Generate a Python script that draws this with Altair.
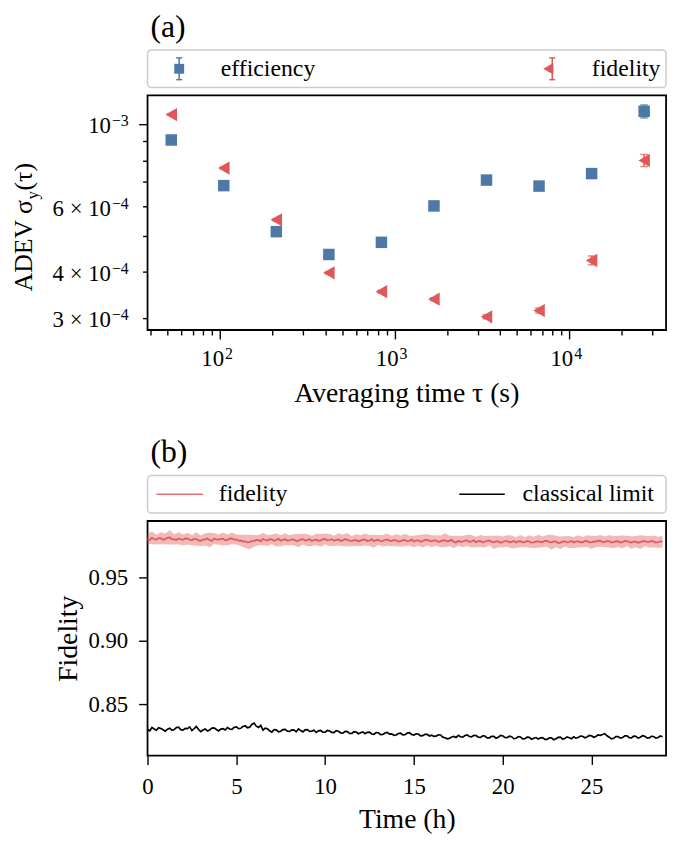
import altair as alt
import pandas as pd

# ---------------- data: panel (a) ----------------
tau = [52.5, 105, 210, 420, 840, 1680, 3360, 6720, 13440, 26880]
eff = [9.08e-4, 6.84e-4, 5.14e-4, 4.46e-4, 4.81e-4, 6.03e-4, 7.08e-4, 6.82e-4, 7.37e-4, 1.085e-3]
eff_err = [4e-6, 3e-6, 3e-6, 3e-6, 4e-6, 5e-6, 6e-6, 8e-6, 1.0e-5, 4.4e-5]
fid = [1.063e-3, 7.63e-4, 5.53e-4, 3.98e-4, 3.54e-4, 3.38e-4, 3.03e-4, 3.15e-4, 4.30e-4, 8.0e-4]
fid_err = [5e-6, 4e-6, 3e-6, 3e-6, 3e-6, 3e-6, 4e-6, 5e-6, 1.2e-5, 3.0e-5]

x_ticks_a = [40, 50, 60, 70, 80, 90, 100, 200, 300, 400, 500, 600, 700, 800, 900,
             1000, 2000, 3000, 4000, 5000, 6000, 7000, 8000, 9000, 10000, 20000, 30000]
x_major_a = [100, 1000, 10000]
x_major_exp = ["2", "3", "4"]
y_ticks_a = [3e-4, 4e-4, 5e-4, 6e-4, 7e-4, 8e-4, 9e-4, 1e-3]
y_lab_vals = [1e-3, 6e-4, 4e-4, 3e-4]
y_lab_base = ["10", "6 × 10", "4 × 10", "3 × 10"]
y_lab_exp = ["−3", "−4", "−4", "−4"]

# ---------------- data: panel (b) ----------------
# fidelity (centre) and classical limit, sampled every 0.125 h
fid_t = [
    0.9808, 0.9798, 0.9815, 0.9804, 0.9801, 0.9813, 0.9812, 0.9800, 0.9806, 0.9816, 0.9818, 0.9805, 0.9803, 0.9797, 0.9811, 0.9804, 0.9799, 0.9810,
    0.9809, 0.9800, 0.9796, 0.9807, 0.9806, 0.9795, 0.9792, 0.9801, 0.9803, 0.9811, 0.9798, 0.9790, 0.9810, 0.9802, 0.9801, 0.9808,
    0.9807, 0.9796, 0.9799, 0.9809, 0.9811, 0.9800, 0.9802, 0.9793, 0.9795, 0.9786, 0.9788, 0.9779, 0.9782, 0.9790, 0.9791, 0.9799,
    0.9797, 0.9789, 0.9806, 0.9798, 0.9794, 0.9805, 0.9803, 0.9791, 0.9798, 0.9807, 0.9792, 0.9800, 0.9804, 0.9793, 0.9796, 0.9803,
    0.9801, 0.9790, 0.9793, 0.9802, 0.9805, 0.9794, 0.9797, 0.9806, 0.9790, 0.9798, 0.9802, 0.9791, 0.9795, 0.9803, 0.9806, 0.9795,
    0.9798, 0.9805, 0.9791, 0.9799, 0.9803, 0.9790, 0.9795, 0.9804, 0.9800, 0.9792, 0.9789, 0.9798, 0.9797, 0.9786, 0.9793, 0.9801,
    0.9802, 0.9790, 0.9794, 0.9803, 0.9788, 0.9797, 0.9799, 0.9787, 0.9792, 0.9800, 0.9801, 0.9793, 0.9790, 0.9798, 0.9796, 0.9785,
    0.9789, 0.9797, 0.9798, 0.9787, 0.9792, 0.9801, 0.9786, 0.9794, 0.9795, 0.9784, 0.9790, 0.9799, 0.9799, 0.9791, 0.9788, 0.9796,
    0.9794, 0.9783, 0.9787, 0.9795, 0.9796, 0.9786, 0.9791, 0.9799, 0.9783, 0.9777, 0.9792, 0.9784, 0.9786, 0.9794, 0.9795, 0.9782,
    0.9788, 0.9796, 0.9781, 0.9789, 0.9790, 0.9780, 0.9784, 0.9792, 0.9793, 0.9785, 0.9779, 0.9788, 0.9787, 0.9776, 0.9782, 0.9790,
    0.9790, 0.9780, 0.9783, 0.9791, 0.9778, 0.9786, 0.9789, 0.9779, 0.9781, 0.9790, 0.9786, 0.9777, 0.9779, 0.9785, 0.9788, 0.9781,
    0.9783, 0.9792, 0.9791, 0.9782, 0.9780, 0.9788, 0.9786, 0.9774, 0.9776, 0.9785, 0.9788, 0.9779, 0.9782, 0.9790, 0.9778, 0.9786,
    0.9787, 0.9779, 0.9781, 0.9790, 0.9789, 0.9780, 0.9779, 0.9787, 0.9785, 0.9793, 0.9791, 0.9781, 0.9783, 0.9790, 0.9788, 0.9779,
    0.9780, 0.9789, 0.9787, 0.9778, 0.9782, 0.9791, 0.9790, 0.9781, 0.9778, 0.9786, 0.9785, 0.9776, 0.9781, 0.9789, 0.9789, 0.9782,
    0.9783, 0.9791, 0.9786, 0.9778, 0.9780, 0.9788, 0.9785,
]
classical = [
    0.8302, 0.8291, 0.8318, 0.8306, 0.8296, 0.8315, 0.8310, 0.8299, 0.8288, 0.8304, 0.8312, 0.8295, 0.8301, 0.8317, 0.8320, 0.8300, 0.8297, 0.8311,
    0.8309, 0.8322, 0.8293, 0.8308, 0.8325, 0.8301, 0.8284, 0.8297, 0.8306, 0.8290, 0.8298, 0.8312, 0.8314, 0.8302, 0.8290, 0.8305,
    0.8308, 0.8298, 0.8317, 0.8305, 0.8302, 0.8319, 0.8322, 0.8309, 0.8311, 0.8326, 0.8331, 0.8315, 0.8320, 0.8341, 0.8352, 0.8328,
    0.8318, 0.8334, 0.8296, 0.8312, 0.8307, 0.8292, 0.8281, 0.8300, 0.8299, 0.8283, 0.8288, 0.8301, 0.8303, 0.8289, 0.8286, 0.8298,
    0.8297, 0.8284, 0.8306, 0.8293, 0.8283, 0.8299, 0.8301, 0.8287, 0.8289, 0.8296, 0.8278, 0.8291, 0.8294, 0.8280, 0.8281, 0.8295,
    0.8290, 0.8279, 0.8277, 0.8292, 0.8288, 0.8275, 0.8273, 0.8287, 0.8285, 0.8271, 0.8270, 0.8284, 0.8282, 0.8268, 0.8276, 0.8283,
    0.8268, 0.8279, 0.8281, 0.8266, 0.8264, 0.8277, 0.8276, 0.8261, 0.8262, 0.8274, 0.8279, 0.8265, 0.8267, 0.8256, 0.8258, 0.8270,
    0.8272, 0.8259, 0.8261, 0.8273, 0.8276, 0.8262, 0.8257, 0.8268, 0.8266, 0.8251, 0.8253, 0.8263, 0.8264, 0.8250, 0.8256, 0.8247,
    0.8249, 0.8260, 0.8258, 0.8241, 0.8236, 0.8228, 0.8231, 0.8243, 0.8247, 0.8238, 0.8255, 0.8244, 0.8241, 0.8254, 0.8259, 0.8246,
    0.8244, 0.8256, 0.8253, 0.8240, 0.8239, 0.8251, 0.8250, 0.8235, 0.8236, 0.8247, 0.8248, 0.8233, 0.8240, 0.8255, 0.8252, 0.8238,
    0.8237, 0.8249, 0.8245, 0.8230, 0.8232, 0.8246, 0.8243, 0.8227, 0.8229, 0.8242, 0.8240, 0.8225, 0.8233, 0.8238, 0.8226, 0.8235,
    0.8238, 0.8223, 0.8224, 0.8236, 0.8235, 0.8220, 0.8228, 0.8239, 0.8241, 0.8226, 0.8230, 0.8243, 0.8237, 0.8229, 0.8244, 0.8233,
    0.8239, 0.8250, 0.8248, 0.8236, 0.8242, 0.8255, 0.8251, 0.8240, 0.8246, 0.8259, 0.8256, 0.8262, 0.8268, 0.8252, 0.8241, 0.8228,
    0.8232, 0.8245, 0.8246, 0.8233, 0.8238, 0.8252, 0.8251, 0.8237, 0.8236, 0.8249, 0.8247, 0.8234, 0.8240, 0.8253, 0.8249, 0.8236,
    0.8235, 0.8248, 0.8246, 0.8233, 0.8239, 0.8250, 0.8244,
]
# half-width of the shaded fidelity band, sampled every 0.25 h
fid_t_err = [
    0.0042, 0.0051, 0.0038, 0.0047, 0.0044, 0.0056, 0.0040, 0.0049, 0.0043,
    0.0046, 0.0039, 0.0053, 0.0041, 0.0048, 0.0058, 0.0044, 0.0040,
    0.0050, 0.0043, 0.0047, 0.0039, 0.0045, 0.0052, 0.0057, 0.0046,
    0.0041, 0.0049, 0.0044, 0.0038, 0.0051, 0.0043, 0.0047, 0.0040,
    0.0045, 0.0053, 0.0042, 0.0048, 0.0039, 0.0046, 0.0050, 0.0043,
    0.0047, 0.0041, 0.0049, 0.0044, 0.0054, 0.0040, 0.0046, 0.0042,
    0.0048, 0.0043, 0.0051, 0.0039, 0.0045, 0.0049, 0.0041, 0.0047,
    0.0044, 0.0050, 0.0040, 0.0046, 0.0042, 0.0052, 0.0045, 0.0048,
    0.0041, 0.0047, 0.0055, 0.0043, 0.0049, 0.0040, 0.0046, 0.0044,
    0.0050, 0.0042, 0.0048, 0.0045, 0.0039, 0.0053, 0.0047, 0.0043,
    0.0046, 0.0051, 0.0044, 0.0048, 0.0041, 0.0049, 0.0045, 0.0052,
    0.0043, 0.0047, 0.0060, 0.0045, 0.0050, 0.0042, 0.0048, 0.0044,
    0.0049, 0.0041, 0.0047, 0.0053, 0.0044, 0.0046, 0.0042, 0.0050,
    0.0047, 0.0044, 0.0051, 0.0042, 0.0049, 0.0045, 0.0054, 0.0043,
    0.0045, 0.0048, 0.0043, 0.0047,
]
time_fine = [i * 0.125 for i in range(len(fid_t))]
time_band = time_fine[::2]
fid_band_c = fid_t[::2]
x_ticks_b = [0, 5, 10, 15, 20, 25]
y_ticks_b = [0.85, 0.90, 0.95]

# ---------------- style ----------------
W, H = 524, 237
FONT = "Liberation Serif"
BLUE = "#4e79a7"
RED = "#e15759"
LAB = 23
EXP = 16
TIT = 28
LEG = 24

# ---------------- panel (a) ----------------
df_a = pd.DataFrame({
    "tau": tau,
    "eff": eff,
    "eff_lo": [v - e for v, e in zip(eff, eff_err)],
    "eff_hi": [v + e for v, e in zip(eff, eff_err)],
    "fid": fid,
    "fid_lo": [v - e for v, e in zip(fid, fid_err)],
    "fid_hi": [v + e for v, e in zip(fid, fid_err)],
})
df_xlab = pd.DataFrame({"tau": x_major_a, "exp": x_major_exp})
df_ylab = pd.DataFrame({"v": y_lab_vals, "base": y_lab_base, "exp": y_lab_exp})

x_axis_a = alt.Axis(
    values=x_ticks_a, grid=False, domain=False, labels=False, title=None,
    tickSize={"condition": {"test": "indexof([100, 1000, 10000], datum.value) >= 0", "value": 9}, "value": 5},
)
y_axis_a = alt.Axis(
    values=y_ticks_a, grid=False, domain=False, labels=False, title=None,
    tickSize={"condition": {"test": "abs(datum.value - 0.001) < 1e-9", "value": 9}, "value": 5},
)
xs_a = alt.Scale(type="log", domain=[38.4, 35900], nice=False)
ys_a = alt.Scale(type="log", domain=[2.791e-4, 1.197e-3], nice=False)


def X(f):
    return alt.X(f, type="quantitative", scale=xs_a, axis=x_axis_a)


def Y(f):
    return alt.Y(f, type="quantitative", scale=ys_a, axis=y_axis_a)


base_a = alt.Chart(df_a)
layers_a = []
for key, color, shape, msize in [("eff", BLUE, "square", 135), ("fid", RED, "triangle-left", 180)]:
    layers_a.append(base_a.mark_rule(color=color, strokeWidth=1.5).encode(
        x=X("tau"), y=Y(key + "_lo"), y2=alt.Y2(key + "_hi")))
    layers_a.append(base_a.mark_tick(color=color, orient="horizontal", size=8, thickness=1.5).encode(
        x=X("tau"), y=Y(key + "_lo")))
    layers_a.append(base_a.mark_tick(color=color, orient="horizontal", size=8, thickness=1.5).encode(
        x=X("tau"), y=Y(key + "_hi")))
    layers_a.append(base_a.mark_point(shape=shape, filled=True, size=msize, opacity=1, color=color).encode(
        x=X("tau"), y=Y(key)))

# tick labels with real superscripts
xl = alt.Chart(df_xlab)
yl = alt.Chart(df_ylab)
labels_a = [
    xl.mark_text(font=FONT, fontSize=LAB, align="right", baseline="alphabetic", dx=4).encode(
        x=X("tau:Q"), y=alt.value(H + 36), text=alt.value("10")),
    xl.mark_text(font=FONT, fontSize=EXP, align="left", baseline="alphabetic", dx=5).encode(
        x=X("tau:Q"), y=alt.value(H + 29), text="exp:N"),
    yl.mark_text(font=FONT, fontSize=LAB, align="right", baseline="alphabetic", dy=9).encode(
        x=alt.value(-37), y=Y("v:Q"), text="base:N"),
    yl.mark_text(font=FONT, fontSize=EXP, align="right", baseline="alphabetic", dy=2).encode(
        x=alt.value(-19), y=Y("v:Q"), text="exp:N"),
]

one = pd.DataFrame({"k": [0]})
deco = alt.Chart(one)

LY = -27  # legend row centre
legend_a = [
    deco.mark_rect(fill="white", stroke="#cccccc", strokeWidth=1.5, cornerRadius=4).encode(
        x=alt.value(0), x2=alt.value(W), y=alt.value(-46), y2=alt.value(-8)),
    deco.mark_rule(color=BLUE, strokeWidth=1.5).encode(
        x=alt.value(32), y=alt.value(LY - 11), y2=alt.value(LY + 11)),
    deco.mark_rule(color=BLUE, strokeWidth=1.5).encode(
        x=alt.value(29), x2=alt.value(35), y=alt.value(LY - 11)),
    deco.mark_rule(color=BLUE, strokeWidth=1.5).encode(
        x=alt.value(29), x2=alt.value(35), y=alt.value(LY + 11)),
    deco.mark_point(shape="square", filled=True, size=100, opacity=1, color=BLUE).encode(
        x=alt.value(32), y=alt.value(LY)),
    deco.mark_text(font=FONT, fontSize=LEG, align="left", baseline="middle").encode(
        x=alt.value(74), y=alt.value(LY), text=alt.value("efficiency")),
    deco.mark_rule(color=RED, strokeWidth=1.5).encode(
        x=alt.value(409), y=alt.value(LY - 11), y2=alt.value(LY + 11)),
    deco.mark_rule(color=RED, strokeWidth=1.5).encode(
        x=alt.value(406), x2=alt.value(412), y=alt.value(LY - 11)),
    deco.mark_rule(color=RED, strokeWidth=1.5).encode(
        x=alt.value(406), x2=alt.value(412), y=alt.value(LY + 11)),
    deco.mark_point(shape="triangle-left", filled=True, size=140, opacity=1, color=RED).encode(
        x=alt.value(405), y=alt.value(LY)),
    deco.mark_text(font=FONT, fontSize=LEG, align="left", baseline="middle").encode(
        x=alt.value(449), y=alt.value(LY), text=alt.value("fidelity")),
    deco.mark_text(font=FONT, fontSize=32, align="left", baseline="middle").encode(
        x=alt.value(3), y=alt.value(-69), text=alt.value("(a)")),
    # axis titles
    deco.mark_text(font=FONT, fontSize=TIT, align="center", baseline="middle").encode(
        x=alt.value(W / 2), y=alt.value(H + 65), text=alt.value("Averaging time τ (s)")),
    deco.mark_text(font=FONT, fontSize=26, align="left", baseline="alphabetic", angle=270).encode(
        x=alt.value(-117), y=alt.value(198), text=alt.value("ADEV σ")),
    deco.mark_text(font=FONT, fontSize=17, align="left", baseline="alphabetic", angle=270).encode(
        x=alt.value(-111), y=alt.value(105), text=alt.value("y")),
    deco.mark_text(font=FONT, fontSize=26, align="left", baseline="alphabetic", angle=270).encode(
        x=alt.value(-117), y=alt.value(96), text=alt.value("(τ)")),
]

top = alt.layer(*layers_a, *labels_a, *legend_a).properties(width=W, height=H)

# ---------------- panel (b) ----------------
df_line = pd.DataFrame({"t": time_fine, "fid": fid_t, "cl": classical})
df_band = pd.DataFrame({
    "t": time_band,
    "lo": [v - e for v, e in zip(fid_band_c, fid_t_err)],
    "hi": [v + e for v, e in zip(fid_band_c, fid_t_err)],
})
xs_b = alt.Scale(domain=[0, 29.2], nice=False, zero=False)
ys_b = alt.Scale(domain=[0.8096, 0.9948], nice=False, zero=False)
x_axis_b = alt.Axis(values=x_ticks_b, grid=False, domain=False, labelFlush=False, tickSize=9,
                    labelPadding=11, titlePadding=8, title="Time (h)", format="d")
y_axis_b = alt.Axis(values=y_ticks_b, grid=False, domain=False, tickSize=9, format=".2f",
                    labelPadding=11, titlePadding=6, title="Fidelity")

XB = alt.X("t:Q", scale=xs_b, axis=x_axis_b)
band = alt.Chart(df_band).mark_area(color=RED, opacity=0.42).encode(
    x=XB, y=alt.Y("lo:Q", scale=ys_b, axis=y_axis_b), y2="hi:Q")
line_f = alt.Chart(df_line).mark_line(color=RED, strokeWidth=1.7).encode(
    x=XB, y=alt.Y("fid:Q", scale=ys_b, axis=y_axis_b))
line_c = alt.Chart(df_line).mark_line(color="black", strokeWidth=1.7).encode(
    x=XB, y=alt.Y("cl:Q", scale=ys_b, axis=y_axis_b))

legend_b = [
    deco.mark_rect(fill="white", stroke="#cccccc", strokeWidth=1.5, cornerRadius=4).encode(
        x=alt.value(0), x2=alt.value(W), y=alt.value(-46), y2=alt.value(-8)),
    deco.mark_rule(color=RED, strokeWidth=1.5, opacity=0.85).encode(
        x=alt.value(9), x2=alt.value(56), y=alt.value(LY)),
    deco.mark_text(font=FONT, fontSize=LEG, align="left", baseline="middle").encode(
        x=alt.value(72), y=alt.value(LY), text=alt.value("fidelity")),
    deco.mark_rule(color="black", strokeWidth=1.5).encode(
        x=alt.value(315), x2=alt.value(361), y=alt.value(LY)),
    deco.mark_text(font=FONT, fontSize=LEG, align="left", baseline="middle").encode(
        x=alt.value(379), y=alt.value(LY), text=alt.value("classical limit")),
    deco.mark_text(font=FONT, fontSize=32, align="left", baseline="middle").encode(
        x=alt.value(3), y=alt.value(-70), text=alt.value("(b)")),
]

bottom = alt.layer(band, line_f, line_c, *legend_b).properties(width=W, height=H)

chart = alt.vconcat(top, bottom, spacing=26).configure(
    font=FONT, background="white", padding={"top": -2, "left": 2, "right": 5, "bottom": 5},
).configure_view(
    stroke="black", strokeWidth=1.8,
).configure_axis(
    labelFont=FONT, labelFontSize=LAB, labelColor="black",
    titleFont=FONT, titleFontSize=TIT, titleFontWeight="normal", titleColor="black",
    tickColor="black", tickWidth=1.4,
)

chart.save("out.html", embed_options={"renderer": "svg", "actions": False})
